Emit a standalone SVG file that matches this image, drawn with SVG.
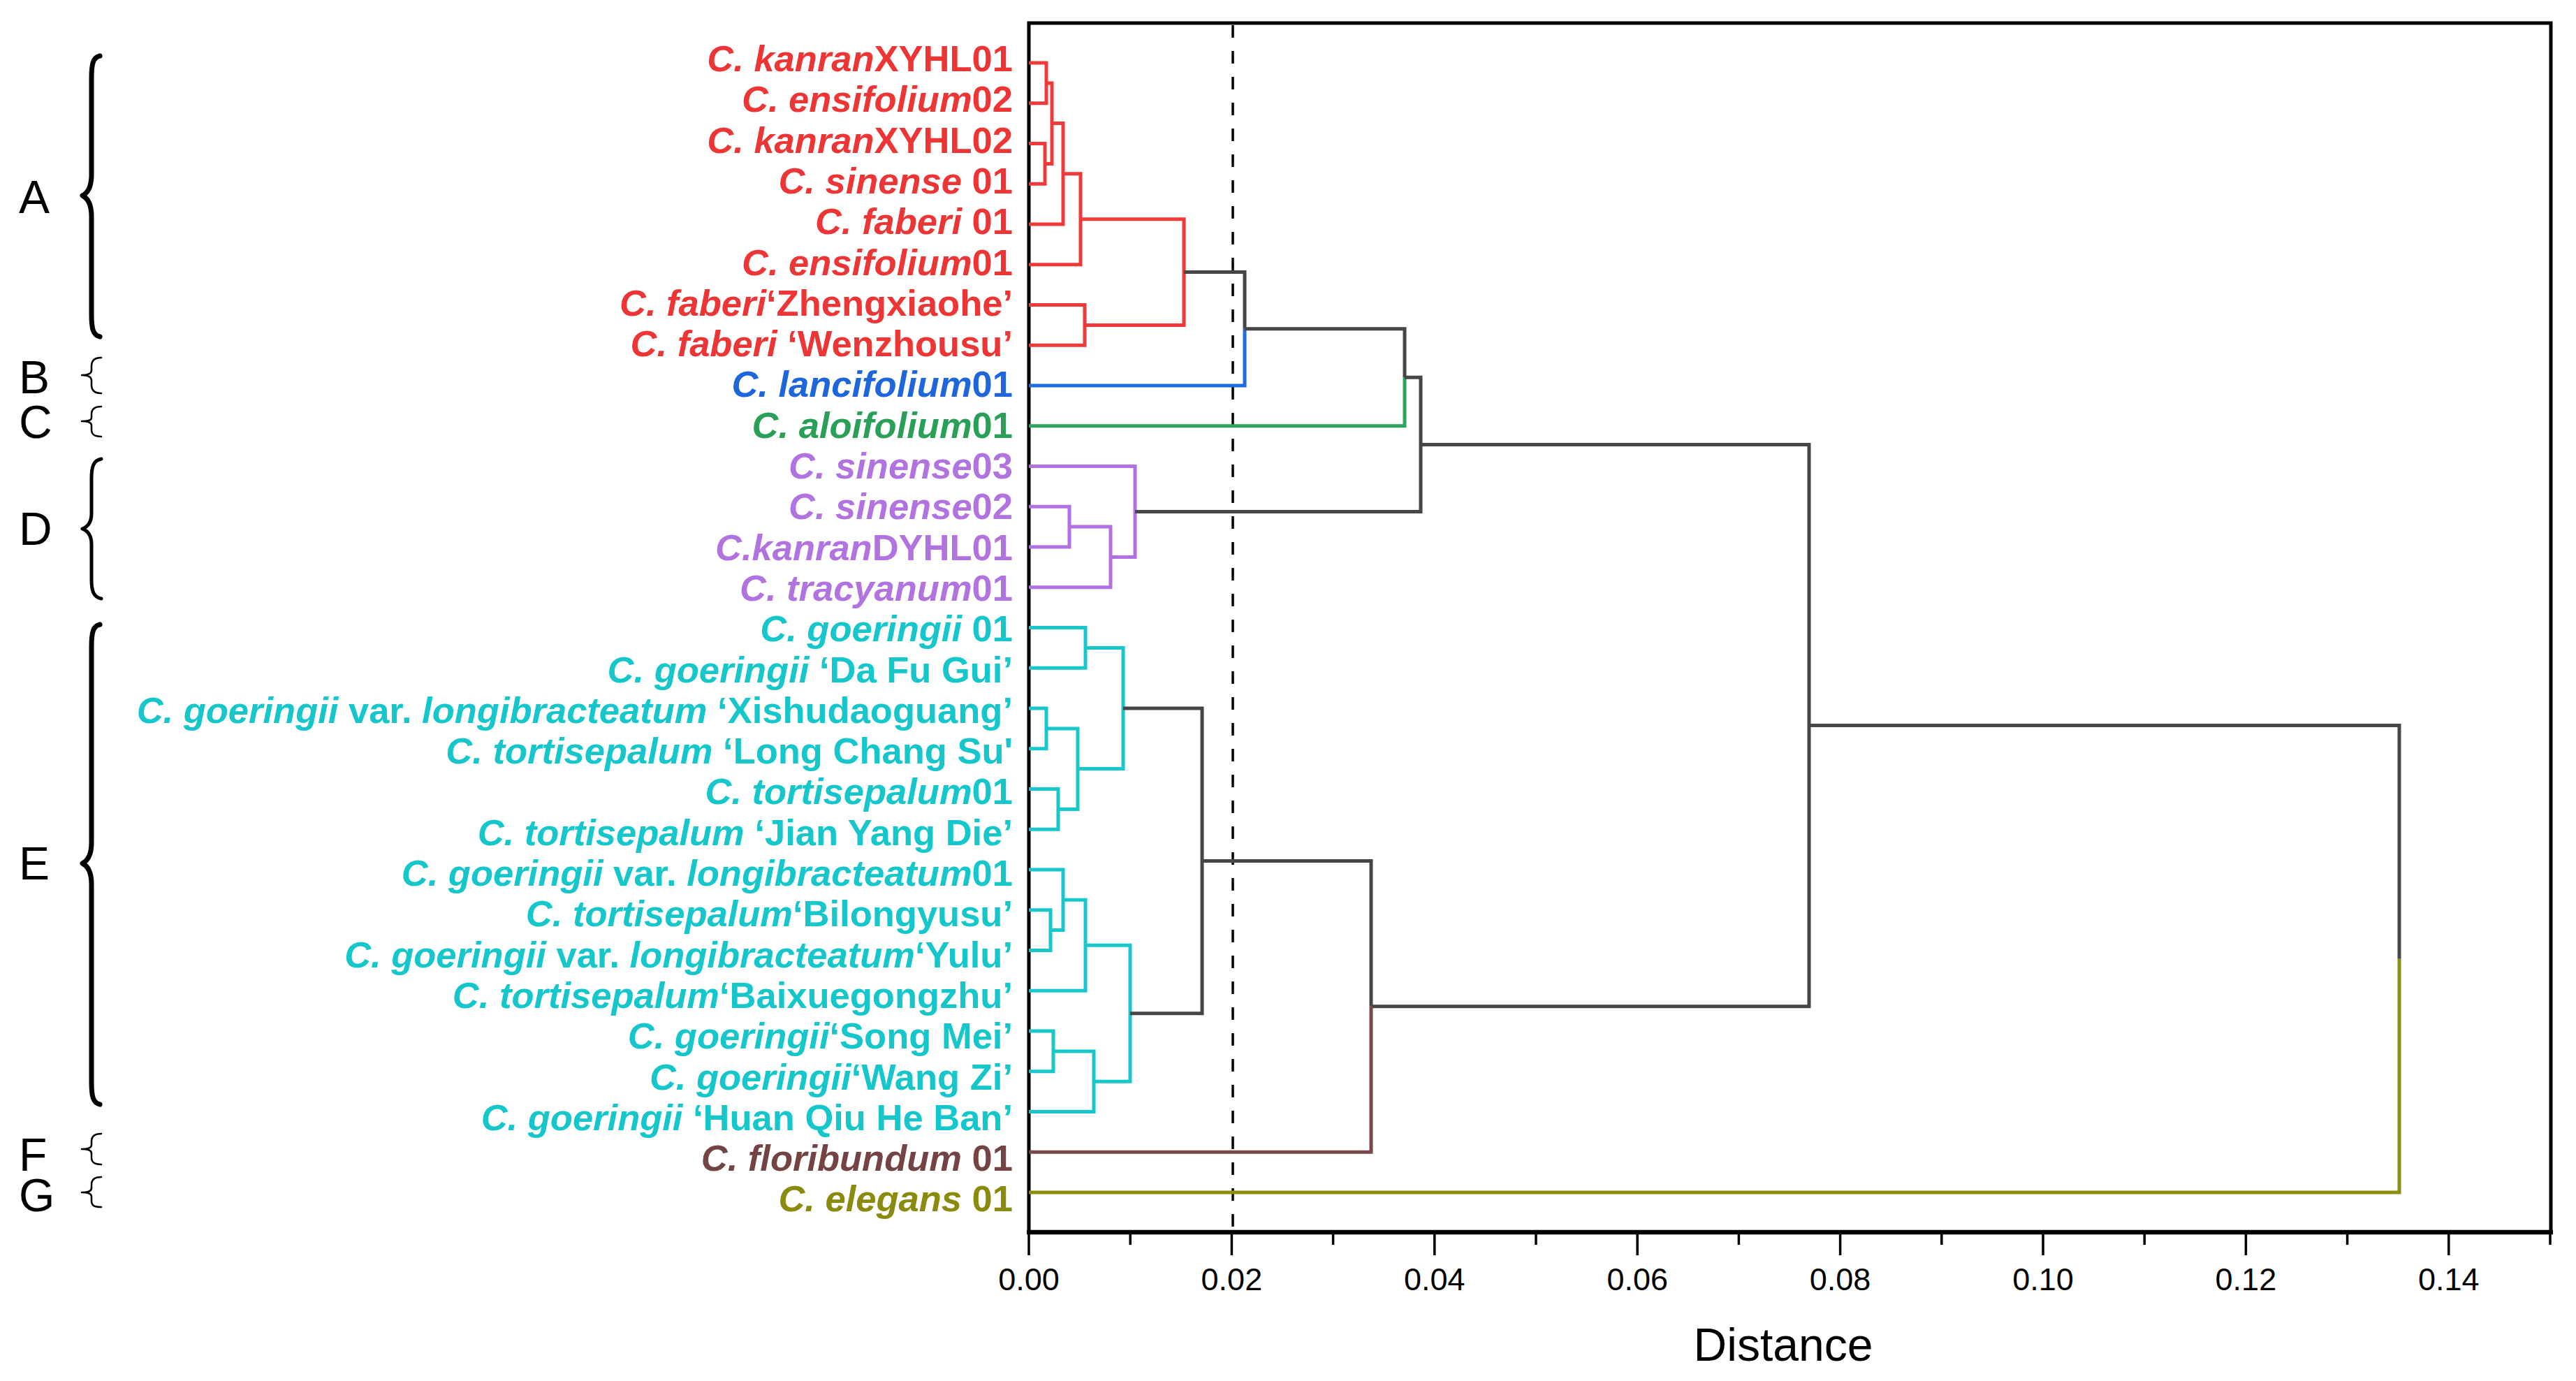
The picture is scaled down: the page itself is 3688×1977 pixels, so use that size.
<svg xmlns="http://www.w3.org/2000/svg" width="3688" height="1977" viewBox="0 0 3688 1977">
<style>
.lbl{font-family:"Liberation Sans",Arial,sans-serif;font-size:52.5px;font-weight:bold;text-anchor:end}
.it{font-style:italic}
.grp{font-family:"Liberation Sans",Arial,sans-serif;font-size:66px;fill:#000}
.tick{font-family:"Liberation Sans",Arial,sans-serif;font-size:45px;fill:#000;text-anchor:middle}
.ln{fill:none;stroke-width:5;stroke-linejoin:miter;stroke-linecap:butt}
.red{stroke:#F03A3A}.blue{stroke:#1E6BE0}.green{stroke:#2EA35C}.purple{stroke:#B171E3}.cyan{stroke:#17C7CB}.brown{stroke:#7A4848}.olive{stroke:#8E8E10}.gray{stroke:#464646}
.tr{fill:#EE3535}.tb{fill:#1E66DC}.tg{fill:#2A9F58}.tp{fill:#B073E0}.tc{fill:#15C6CA}.tbr{fill:#744444}.to{fill:#8A8A0C}
.brace{fill:none;stroke:#000;stroke-linecap:round;stroke-linejoin:round}
</style>
<rect width="3688" height="1977" fill="#fff"/>
<g id="axes">
<path d="M1473,1764 V33 H3652 V1764" fill="none" stroke="#000" stroke-width="5"/>
<line x1="1470" y1="1764" x2="3655" y2="1764" stroke="#000" stroke-width="6.5"/>
<line x1="1765" y1="36" x2="1765" y2="1762" stroke="#000" stroke-width="3.5" stroke-dasharray="18 19"/>
<g stroke="#000" stroke-width="3.5">
<path d="M1473,1764V1797M1763.4,1764V1797M2053.8,1764V1797M2344.2,1764V1797M2634.6,1764V1797M2925,1764V1797M3215.4,1764V1797M3505.8,1764V1797"/>
<path d="M1618.2,1764V1782M1908.6,1764V1782M2199,1764V1782M2489.4,1764V1782M2779.8,1764V1782M3070.2,1764V1782M3360.6,1764V1782M3651,1764V1782"/>
</g>
<text class="tick" x="1473" y="1847">0.00</text>
<text class="tick" x="1763.4" y="1847">0.02</text>
<text class="tick" x="2053.8" y="1847">0.04</text>
<text class="tick" x="2344.2" y="1847">0.06</text>
<text class="tick" x="2634.6" y="1847">0.08</text>
<text class="tick" x="2925" y="1847">0.10</text>
<text class="tick" x="3215.4" y="1847">0.12</text>
<text class="tick" x="3505.8" y="1847">0.14</text>
<text x="2553" y="1948" font-family="Liberation Sans,Arial,sans-serif" font-size="66" text-anchor="middle" fill="#000">Distance</text>
</g>
<g id="connectors">
<path class="ln red" d="M1473,90H1498V147.8H1473M1473,205.5H1496V263.3H1473M1498,118.9H1506V234.4H1496M1506,176.6H1522V321H1473M1522,248.8H1547V378.8H1473M1473,436.5H1553V494.3H1473M1547,313.8H1695V465.4H1553"/>
<path class="ln gray" d="M1695,389.6H1782V470.8"/>
<path class="ln blue" d="M1473,552H1782V470.8"/>
<path class="ln gray" d="M1782,470.8H2011V540.3"/>
<path class="ln green" d="M1473,609.8H2011V540.3"/>
<path class="ln purple" d="M1473,725.3H1531V783H1473M1531,754.1H1590V840.8H1473M1473,667.5H1625V797.4H1590"/>
<path class="ln gray" d="M2011,540.3H2034V732.5H1625"/>
<path class="ln gray" d="M2034,636.4H2590V1440.8H1963"/>
<path class="ln cyan" d="M1473,898.5H1554V956.3H1473M1473,1014H1498V1071.8H1473M1473,1129.5H1515V1187.3H1473M1498,1042.9H1543V1158.4H1515M1554,927.4H1608V1100.6H1543M1473,1302.8H1504V1360.5H1473M1473,1245H1522V1331.6H1504M1522,1288.3H1554V1418.3H1473M1473,1476H1508V1533.8H1473M1508,1504.9H1566V1591.5H1473M1554,1353.3H1618V1548.2H1566"/>
<path class="ln gray" d="M1608,1014H1721V1450.7H1618"/>
<path class="ln gray" d="M1721,1232.4H1963V1440.8"/>
<path class="ln brown" d="M1473,1649.3H1963V1440.8"/>
<path class="ln gray" d="M2590,1038.6H3435V1372.8"/>
<path class="ln olive" d="M1473,1707H3435V1372.8"/>
</g>
<g id="leaf-01"><text class="lbl tr" x="1450" y="102"><tspan class="it">C. kanran</tspan>XYHL01</text></g>
<g id="leaf-02"><text class="lbl tr" x="1450" y="160.3"><tspan class="it">C. ensifolium</tspan>02</text></g>
<g id="leaf-03"><text class="lbl tr" x="1450" y="218.6"><tspan class="it">C. kanran</tspan>XYHL02</text></g>
<g id="leaf-04"><text class="lbl tr" x="1450" y="276.9"><tspan class="it">C. sinense</tspan> 01</text></g>
<g id="leaf-05"><text class="lbl tr" x="1450" y="335.2"><tspan class="it">C. faberi</tspan> 01</text></g>
<g id="leaf-06"><text class="lbl tr" x="1450" y="393.5"><tspan class="it">C. ensifolium</tspan>01</text></g>
<g id="leaf-07"><text class="lbl tr" x="1450" y="451.8"><tspan class="it">C. faberi</tspan>‘Zhengxiaohe’</text></g>
<g id="leaf-08"><text class="lbl tr" x="1450" y="510.1"><tspan class="it">C. faberi</tspan> ‘Wenzhousu’</text></g>
<g id="leaf-09"><text class="lbl tb" x="1450" y="568.4"><tspan class="it">C. lancifolium</tspan>01</text></g>
<g id="leaf-10"><text class="lbl tg" x="1450" y="626.7"><tspan class="it">C. aloifolium</tspan>01</text></g>
<g id="leaf-11"><text class="lbl tp" x="1450" y="685"><tspan class="it">C. sinense</tspan>03</text></g>
<g id="leaf-12"><text class="lbl tp" x="1450" y="743.3"><tspan class="it">C. sinense</tspan>02</text></g>
<g id="leaf-13"><text class="lbl tp" x="1450" y="801.6"><tspan class="it">C.kanran</tspan>DYHL01</text></g>
<g id="leaf-14"><text class="lbl tp" x="1450" y="859.9"><tspan class="it">C. tracyanum</tspan>01</text></g>
<g id="leaf-15"><text class="lbl tc" x="1450" y="918.2"><tspan class="it">C. goeringii</tspan> 01</text></g>
<g id="leaf-16"><text class="lbl tc" x="1450" y="976.5"><tspan class="it">C. goeringii</tspan> ‘Da Fu Gui’</text></g>
<g id="leaf-17"><text class="lbl tc" x="1450" y="1034.8"><tspan class="it">C. goeringii</tspan> var. <tspan class="it">longibracteatum</tspan> ‘Xishudaoguang’</text></g>
<g id="leaf-18"><text class="lbl tc" x="1450" y="1093.1"><tspan class="it">C. tortisepalum</tspan> ‘Long Chang Su'</text></g>
<g id="leaf-19"><text class="lbl tc" x="1450" y="1151.4"><tspan class="it">C. tortisepalum</tspan>01</text></g>
<g id="leaf-20"><text class="lbl tc" x="1450" y="1209.7"><tspan class="it">C. tortisepalum</tspan> ‘Jian Yang Die’</text></g>
<g id="leaf-21"><text class="lbl tc" x="1450" y="1268"><tspan class="it">C. goeringii</tspan> var. <tspan class="it">longibracteatum</tspan>01</text></g>
<g id="leaf-22"><text class="lbl tc" x="1450" y="1326.3"><tspan class="it">C. tortisepalum</tspan>‘Bilongyusu’</text></g>
<g id="leaf-23"><text class="lbl tc" x="1450" y="1384.6"><tspan class="it">C. goeringii</tspan> var. <tspan class="it">longibracteatum</tspan>‘Yulu’</text></g>
<g id="leaf-24"><text class="lbl tc" x="1450" y="1442.9"><tspan class="it">C. tortisepalum</tspan>‘Baixuegongzhu’</text></g>
<g id="leaf-25"><text class="lbl tc" x="1450" y="1501.2"><tspan class="it">C. goeringii</tspan>‘Song Mei’</text></g>
<g id="leaf-26"><text class="lbl tc" x="1450" y="1559.5"><tspan class="it">C. goeringii</tspan>‘Wang Zi’</text></g>
<g id="leaf-27"><text class="lbl tc" x="1450" y="1617.8"><tspan class="it">C. goeringii</tspan> ‘Huan Qiu He Ban’</text></g>
<g id="leaf-28"><text class="lbl tbr" x="1450" y="1676.1"><tspan class="it">C. floribundum</tspan> 01</text></g>
<g id="leaf-29"><text class="lbl to" x="1450" y="1734.4"><tspan class="it">C. elegans</tspan> 01</text></g>
<g id="group-A"><text class="grp" x="27" y="305">A</text><path class="brace" stroke-width="7" d="M143,80C133,82 131,92 131,112L131,250C131,268 126,276 118,280C126,284 131,292 131,310L131,450C131,470 133,480 143,482"/></g>
<g id="group-B"><text class="grp" x="27" y="563">B</text><path class="brace" stroke-width="2.5" d="M145,512C135,512 131,516 131,524L131,530C131,535 126,537 117,537C126,537 131,540 131,545L131,551C131,559 135,563 145,563"/></g>
<g id="group-C"><text class="grp" x="27" y="627">C</text><path class="brace" stroke-width="2.5" d="M145,582C135,582 131,586 131,593L131,598C131,602 126,603 117,603C126,603 131,605 131,609L131,615C131,622 135,625 145,625"/></g>
<g id="group-D"><text class="grp" x="27" y="780">D</text><path class="brace" stroke-width="5" d="M145,657C134,659 131,668 131,684L131,735C131,748 126,754 118,757C126,760 131,766 131,779L131,830C131,846 134,855 145,857"/></g>
<g id="group-E"><text class="grp" x="27" y="1259">E</text><path class="brace" stroke-width="7" d="M143,894C133,896 131,906 131,926L131,1206C131,1224 126,1232 118,1236C126,1240 131,1248 131,1266L131,1549C131,1569 133,1579 143,1581"/></g>
<g id="group-F"><text class="grp" x="27" y="1676">F</text><path class="brace" stroke-width="2.5" d="M145,1623C135,1623 131,1627 131,1634L131,1639C131,1643 126,1645 117,1645C126,1645 131,1647 131,1651L131,1657C131,1664 135,1667 145,1667"/></g>
<g id="group-G"><text class="grp" x="27" y="1734">G</text><path class="brace" stroke-width="2.5" d="M145,1685C135,1685 131,1689 131,1696L131,1701C131,1705 126,1707 117,1707C126,1707 131,1709 131,1713L131,1719C131,1726 135,1728 145,1728"/></g>
</svg>
